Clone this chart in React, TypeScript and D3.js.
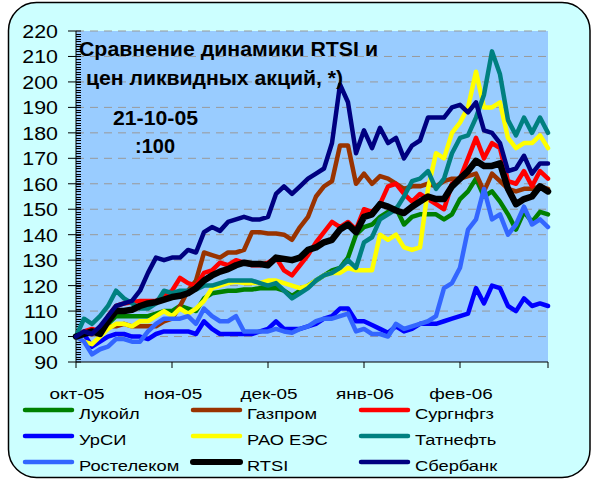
import React from "react";
import * as d3 from "d3";

// индексы RTSI и акций, 21-10-05 = 100
const lukoil = [100,101,102,101,105,108,108,108,108,108, 109,110,110,112,111,110,115,117,117.5,118, 118,118.5,118.5,119,119,119,118,116,118,120, 122,124,126,127,131,140,143,144,147,149, 150.5,144,147,148,148,148,146,148,154,157, 162,155,157,153,148,142,149,145,149,148];
const gazprom = [100,101,101,103,104,104,105,104,104,104, 104,106,107,112,118,122,133,132,131,133, 133,134,141,141,140.5,140.5,140,138,143,147, 155,159,161,175,175,160,164,160,163,162, 160,158,159,159,160,159,161,162,162,163, 164,157,164,161,158,157,158,158,159,158];
const surgut = [100,102,103,102,108,112,113,113.5,114,114, 114,116,118,123,121,120,125,126,129,128, 130,129,128,128,129,131,126,124,128,132, 137,141,145,143,145,142,150,149,152,159, 160,156,153,156,154,152,150,160,162,170, 178,170,176,174,161,160,165,159,165,162];
const ursi = [100,101,96,98,100,101,101,100,100,99, 101,102,102,102,102,101,106,103,101,101, 101,101,101,102,103,106,103,103,103,104, 105,107,108,111,111,106,106,104.5,103,101.5, 104,102,103,105,105,105,106,107,108,109, 119,113,120,119,112,110,115,112,113,112];
const raoues = [100,98,97,100,103,105,105,104,106,106, 108,110,108,111,109,111,114,119,120,121, 121.5,121,121,121,122,122,121,120,119,120, 122,124,125,125,127,126,126,126,140,138, 140,135,134,135,158,172,170,180,184,190, 204,190,190,192,178,174,176,176,179,174];
const tatneft = [100,107,105,108,112,118,115,113,111,111, 113,118,117,118,118,118.5,120,120,121,122, 122,122,122,121,120,121,118,115,117,119, 122,124,125,127,130,127,137,139,146,148, 150,155,161,162,165,158,162,172,178,179, 186,195,212,203,185,179,186,180,186,180];
const rostelecom = [100,98,93,95,96,99,99,98,98,102, 105,107,107,107,108,105,111,108,106,106, 108,102,102,102,102,103,102,101.5,103,104, 106,107,107,108,109,102,103,101,101,100, 105,103,104,105,106,108,119,121,127,142, 146,158,146,148,140,144,151,144,146,143];
const rtsi = [100,101,102,101,106,110,110,110.5,112,113, 113.5,114.5,115.5,116,117,119,122,124,125.5,126.5, 128,129,128.5,128.5,128,131,130.5,130,131,134, 135,137,138,142,144,141,147,148,152,151, 149.5,148.5,151,153,155,154,154,159,162,165, 169,167,167,168,158,152,154,155,159,157];
const sberbank = [100,102,101,104,108,112,113,114,118,125, 131,130,131,131,134,133,141,143,141.5,145, 146,147,146,146,147,156,159,156,159,162, 164,166,176,199,192,172,181,174,182,176, 178,170,175,177,186,186,186,190,191,188, 192,181,180,176,165,166,171,164,168,168];

const seriesNames = ["Лукойл", "Газпром", "Сургнфгз", "УрСИ", "РАО ЕЭС", "Татнефть", "Ростелеком", "RTSI", "Сбербанк"];
const seriesColors = ["#008000", "#993300", "#ff0000", "#0000ff", "#ffff00", "#008080", "#3366ff", "#000000", "#000080"];
const seriesValues = [lukoil, gazprom, surgut, ursi, raoues, tatneft, rostelecom, rtsi, sberbank];

const monthLabels = ["окт-05", "ноя-05", "дек-05", "янв-06", "фев-06"];
const xTickIdx = [0, 12, 24, 36, 48, 59];
const yTicks = [90, 100, 110, 120, 130, 140, 150, 160, 170, 180, 190, 200, 210, 220];

const W = 593, H = 484;
const plot = { left: 76, right: 548, top: 31, bottom: 362 };
const font = "Arial, 'Liberation Sans', sans-serif";
const sx = 1.22; // текст в оригинале растянут по горизонтали

export default function App() {
  const x = d3.scaleLinear().domain([0, rtsi.length - 1]).range([plot.left, plot.right]);
  const y = d3.scaleLinear().domain([90, 220]).range([plot.bottom, plot.top]);
  const line = d3.line<number>().x((d, i) => x(i)).y(d => y(d));
  const minor = d3.range(91, 220);

  return (
    <svg width={W} height={H} style={{ position: "absolute", left: 0, top: 0 }} fontFamily={font}>
      <rect x={8.5} y={2.5} width={581.5} height={475} rx={28} fill="#ccffff" stroke="#000" strokeWidth={1.5} />
      <rect x={plot.left} y={plot.top} width={plot.right - plot.left} height={plot.bottom - plot.top} fill="#99ccff" />
      {yTicks.filter(t => t > 90).map(t => (
        <line key={t} x1={plot.left} x2={plot.right} y1={y(t)} y2={y(t)} stroke="#999" strokeWidth={1} strokeDasharray="8,6" />
      ))}
      {/* ось Y */}
      <line x1={plot.left} x2={plot.left} y1={plot.top} y2={plot.bottom} stroke="#000" strokeWidth={1} />
      {minor.map(t => (
        <line key={t} x1={plot.left} x2={plot.left + 5} y1={Math.round(y(t)) + 0.5} y2={Math.round(y(t)) + 0.5} stroke="#000" strokeWidth={1} />
      ))}
      {yTicks.map(t => (
        <g key={t}>
          <line x1={plot.left - 8} x2={plot.left + 5} y1={y(t)} y2={y(t)} stroke="#000" strokeWidth={1} />
          <text transform={`translate(58,${y(t) + 7}) scale(1.15,1)`} textAnchor="end" fontSize={18.6}>{t}</text>
        </g>
      ))}
      {/* ось X */}
      <line x1={plot.left} x2={plot.right} y1={plot.bottom} y2={plot.bottom} stroke="#000" strokeWidth={1} />
      {xTickIdx.map(i => (
        <line key={i} x1={x(i)} x2={x(i)} y1={plot.bottom} y2={plot.bottom + 6} stroke="#000" strokeWidth={1} />
      ))}
      {monthLabels.map((m, k) => (
        <text key={m} transform={`translate(${x(xTickIdx[k]) + 1},399) scale(${sx},1)`} textAnchor="middle" fontSize={15.5}>{m}</text>
      ))}
      {/* линии */}
      {seriesValues.map((vals, k) => (
        <path key={k} d={line(vals) || ""} fill="none" stroke={seriesColors[k]}
          strokeWidth={seriesNames[k] === "RTSI" ? 6.5 : 4.5} strokeLinejoin="round" strokeLinecap="round" />
      ))}
      {/* заголовок */}
      <g fontWeight="bold" fontSize={19.5}>
        <text x={79} y={56} textLength={299} lengthAdjust="spacingAndGlyphs">Сравнение динамики RTSI и</text>
        <text x={86} y={85} textLength={257} lengthAdjust="spacingAndGlyphs">цен ликвидных акций, *)</text>
        <text x={113} y={125} textLength={85} lengthAdjust="spacingAndGlyphs">21-10-05</text>
        <text x={135} y={153} textLength={40} lengthAdjust="spacingAndGlyphs">:100</text>
      </g>
      {/* легенда */}
      {seriesNames.map((name, k) => {
        const col = k % 3, row = Math.floor(k / 3);
        const lx = 25 + col * 168, ly = 410 + row * 26;
        return (
          <g key={name}>
            <line x1={lx} x2={lx + 47} y1={ly} y2={ly} stroke={seriesColors[k]} strokeWidth={name === "RTSI" ? 6 : 4.5} strokeLinecap="round" />
            <text transform={`translate(${lx + 54},${ly + 9}) scale(${sx},1)`} fontSize={15}>{name}</text>
          </g>
        );
      })}
    </svg>
  );
}
